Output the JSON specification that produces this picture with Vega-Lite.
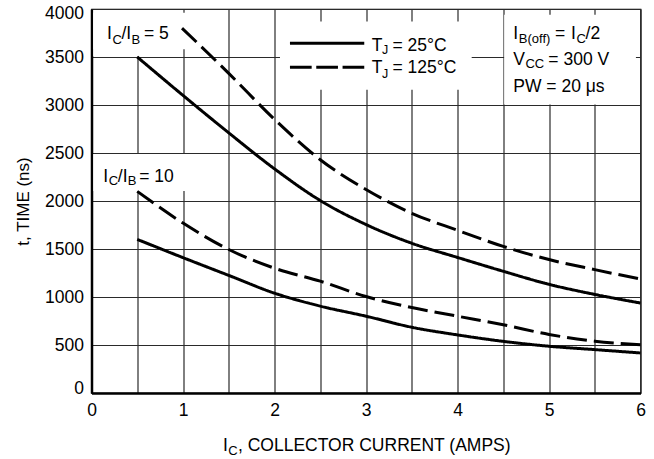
{
  "$schema": "https://vega.github.io/schema/vega-lite/v6.json",
  "width": 549,
  "height": 384,
  "autosize": {"type": "none"},
  "padding": {"left": 91.5, "top": 9, "right": 13.5, "bottom": 66},
  "background": "white",
  "config": {"view": {"stroke": "black", "strokeWidth": 1.2}, "font": "Liberation Sans"},
  "datasets": {
    "curves": [
      {"ic": 0.5, "t": 3500, "temp": "25", "ratio": "5"},
      {"ic": 1, "t": 3100, "temp": "25", "ratio": "5"},
      {"ic": 1.5, "t": 2710, "temp": "25", "ratio": "5"},
      {"ic": 2, "t": 2335, "temp": "25", "ratio": "5"},
      {"ic": 2.5, "t": 2005, "temp": "25", "ratio": "5"},
      {"ic": 3, "t": 1755, "temp": "25", "ratio": "5"},
      {"ic": 3.5, "t": 1560, "temp": "25", "ratio": "5"},
      {"ic": 4, "t": 1412, "temp": "25", "ratio": "5"},
      {"ic": 4.5, "t": 1268, "temp": "25", "ratio": "5"},
      {"ic": 5, "t": 1132, "temp": "25", "ratio": "5"},
      {"ic": 5.5, "t": 1027, "temp": "25", "ratio": "5"},
      {"ic": 6, "t": 937, "temp": "25", "ratio": "5"},
      {"ic": 0.99, "t": 3800, "temp": "125", "ratio": "5"},
      {"ic": 1.5, "t": 3330, "temp": "125", "ratio": "5"},
      {"ic": 2, "t": 2850, "temp": "125", "ratio": "5"},
      {"ic": 2.5, "t": 2430, "temp": "125", "ratio": "5"},
      {"ic": 3, "t": 2120, "temp": "125", "ratio": "5"},
      {"ic": 3.5, "t": 1872, "temp": "125", "ratio": "5"},
      {"ic": 4, "t": 1695, "temp": "125", "ratio": "5"},
      {"ic": 4.5, "t": 1527, "temp": "125", "ratio": "5"},
      {"ic": 5, "t": 1390, "temp": "125", "ratio": "5"},
      {"ic": 5.5, "t": 1285, "temp": "125", "ratio": "5"},
      {"ic": 6, "t": 1187, "temp": "125", "ratio": "5"},
      {"ic": 0.5, "t": 1600, "temp": "25", "ratio": "10"},
      {"ic": 1, "t": 1410, "temp": "25", "ratio": "10"},
      {"ic": 1.5, "t": 1225, "temp": "25", "ratio": "10"},
      {"ic": 2, "t": 1040, "temp": "25", "ratio": "10"},
      {"ic": 2.5, "t": 905, "temp": "25", "ratio": "10"},
      {"ic": 3, "t": 800, "temp": "25", "ratio": "10"},
      {"ic": 3.5, "t": 685, "temp": "25", "ratio": "10"},
      {"ic": 4, "t": 605, "temp": "25", "ratio": "10"},
      {"ic": 4.5, "t": 538, "temp": "25", "ratio": "10"},
      {"ic": 5, "t": 487, "temp": "25", "ratio": "10"},
      {"ic": 5.5, "t": 452, "temp": "25", "ratio": "10"},
      {"ic": 6, "t": 417, "temp": "25", "ratio": "10"},
      {"ic": 0.5, "t": 2100, "temp": "125", "ratio": "10"},
      {"ic": 1, "t": 1770, "temp": "125", "ratio": "10"},
      {"ic": 1.5, "t": 1495, "temp": "125", "ratio": "10"},
      {"ic": 2, "t": 1300, "temp": "125", "ratio": "10"},
      {"ic": 2.5, "t": 1165, "temp": "125", "ratio": "10"},
      {"ic": 3, "t": 1005, "temp": "125", "ratio": "10"},
      {"ic": 3.5, "t": 890, "temp": "125", "ratio": "10"},
      {"ic": 4, "t": 800, "temp": "125", "ratio": "10"},
      {"ic": 4.5, "t": 711, "temp": "125", "ratio": "10"},
      {"ic": 5, "t": 610, "temp": "125", "ratio": "10"},
      {"ic": 5.5, "t": 540, "temp": "125", "ratio": "10"},
      {"ic": 6, "t": 503, "temp": "125", "ratio": "10"}
    ]
  },
  "layer": [
    {
      "data": {"name": "curves"},
      "mark": {"type": "line", "color": "black", "strokeWidth": 3, "interpolate": "monotone", "strokeCap": "butt", "opacity": 0},
      "encoding": {
        "x": {
          "field": "ic", "type": "quantitative",
          "scale": {"domain": [0, 6], "nice": false, "zero": false},
          "axis": {
            "values": [0, 0.5, 1, 1.5, 2, 2.5, 3, 3.5, 4, 4.5, 5, 5.5, 6],
            "labelExpr": "datum.value % 1 === 0 ? format(datum.value, 'd') : ''",
            "title": null, "ticks": false, "grid": true, "gridColor": "#2a2a2a", "gridWidth": 1.2, "gridOpacity": 1,
            "domainColor": "black", "domainWidth": 2.5,
            "labelFont": "Liberation Sans", "labelFontSize": 17.5, "labelColor": "black",
            "labelPadding": 8, "labelFlush": false, "labelOverlap": false
          }
        },
        "y": {
          "field": "t", "type": "quantitative",
          "scale": {"domain": [0, 4000], "nice": false, "zero": false},
          "axis": {
            "values": [0, 500, 1000, 1500, 2000, 2500, 3000, 3500, 4000],
            "format": "d",
            "title": "t, TIME (ns)", "titleFont": "Liberation Sans", "titleFontSize": 17, "titleFontWeight": "normal", "titleColor": "black", "titlePadding": 12,
            "ticks": false, "grid": true, "gridColor": "#2a2a2a", "gridWidth": 1.2, "gridOpacity": 1,
            "domainColor": "black", "domainWidth": 2.5,
            "labelFont": "Liberation Sans", "labelFontSize": 17.5, "labelColor": "black",
            "labelPadding": 8, "labelFlush": true, "labelFlushOffset": 4.5, "labelOverlap": false
          }
        },
        "detail": {"field": "ratio"},
        "strokeDash": {"field": "temp", "type": "nominal", "scale": {"domain": ["25", "125"], "range": [[1, 0], [20, 7]]}, "legend": null}
      }
    },
    {
      "data": {"values": [{}]},
      "layer": [
        {"mark": {"type": "rect", "fill": "white"}, "encoding": {"x": {"datum": 0.02, "type": "quantitative"}, "x2": {"datum": 0.8}, "y": {"datum": 3510, "type": "quantitative"}, "y2": {"datum": 3990}}},
        {"mark": {"type": "rect", "fill": "white"}, "encoding": {"x": {"datum": 0.02, "type": "quantitative"}, "x2": {"datum": 1.06}, "y": {"datum": 3580, "type": "quantitative"}, "y2": {"datum": 3960}}},
        {"mark": {"type": "rect", "fill": "white"}, "encoding": {"x": {"datum": 0.02, "type": "quantitative"}, "x2": {"datum": 1.1}, "y": {"datum": 2105, "type": "quantitative"}, "y2": {"datum": 2490}}},
        {"mark": {"type": "rect", "fill": "white"}, "encoding": {"x": {"datum": 2.06, "type": "quantitative"}, "x2": {"datum": 4.155}, "y": {"datum": 3160, "type": "quantitative"}, "y2": {"datum": 3870}}},
        {"mark": {"type": "rect", "fill": "white"}, "encoding": {"x": {"datum": 4.51, "type": "quantitative"}, "x2": {"datum": 5.95}, "y": {"datum": 3005, "type": "quantitative"}, "y2": {"datum": 3940}}}
      ]
    },
    {
      "data": {"name": "curves"},
      "mark": {"type": "line", "color": "black", "strokeWidth": 3, "interpolate": "monotone", "strokeCap": "butt"},
      "encoding": {
        "x": {"field": "ic", "type": "quantitative"},
        "y": {"field": "t", "type": "quantitative"},
        "detail": {"field": "ratio"},
        "strokeDash": {"field": "temp", "type": "nominal", "legend": null}
      }
    },
    {
      "data": {"values": [{}]},
      "layer": [
        {"mark": {"type": "rule", "color": "black", "strokeWidth": 3}, "encoding": {"x": {"datum": 2.169, "type": "quantitative"}, "x2": {"datum": 2.981}, "y": {"datum": 3643, "type": "quantitative"}}},
        {"mark": {"type": "rule", "color": "black", "strokeWidth": 3, "strokeDash": [21.7, 4.6]}, "encoding": {"x": {"datum": 2.169, "type": "quantitative"}, "x2": {"datum": 2.981}, "y": {"datum": 3393, "type": "quantitative"}}},

        {"mark": {"type": "text", "text": "I", "fontSize": 17.5, "align": "left", "baseline": "alphabetic", "color": "black"}, "encoding": {"x": {"datum": 0.169, "type": "quantitative"}, "y": {"datum": 3684, "type": "quantitative"}}},
        {"mark": {"type": "text", "text": "C", "fontSize": 13, "align": "left", "baseline": "alphabetic", "color": "black"}, "encoding": {"x": {"datum": 0.2295, "type": "quantitative"}, "y": {"datum": 3635, "type": "quantitative"}}},
        {"mark": {"type": "text", "text": "/I", "fontSize": 17.5, "align": "left", "baseline": "alphabetic", "color": "black"}, "encoding": {"x": {"datum": 0.328, "type": "quantitative"}, "y": {"datum": 3684, "type": "quantitative"}}},
        {"mark": {"type": "text", "text": "B", "fontSize": 13, "align": "left", "baseline": "alphabetic", "color": "black"}, "encoding": {"x": {"datum": 0.437, "type": "quantitative"}, "y": {"datum": 3635, "type": "quantitative"}}},
        {"mark": {"type": "text", "text": "= 5", "fontSize": 17.5, "align": "left", "baseline": "alphabetic", "color": "black"}, "encoding": {"x": {"datum": 0.574, "type": "quantitative"}, "y": {"datum": 3684, "type": "quantitative"}}},

        {"mark": {"type": "text", "text": "I", "fontSize": 17.5, "align": "left", "baseline": "alphabetic", "color": "black"}, "encoding": {"x": {"datum": 0.129, "type": "quantitative"}, "y": {"datum": 2201, "type": "quantitative"}}},
        {"mark": {"type": "text", "text": "C", "fontSize": 13, "align": "left", "baseline": "alphabetic", "color": "black"}, "encoding": {"x": {"datum": 0.189, "type": "quantitative"}, "y": {"datum": 2167, "type": "quantitative"}}},
        {"mark": {"type": "text", "text": "/I", "fontSize": 17.5, "align": "left", "baseline": "alphabetic", "color": "black"}, "encoding": {"x": {"datum": 0.2874, "type": "quantitative"}, "y": {"datum": 2201, "type": "quantitative"}}},
        {"mark": {"type": "text", "text": "B", "fontSize": 13, "align": "left", "baseline": "alphabetic", "color": "black"}, "encoding": {"x": {"datum": 0.3967, "type": "quantitative"}, "y": {"datum": 2167, "type": "quantitative"}}},
        {"mark": {"type": "text", "text": "= 10", "fontSize": 17.5, "align": "left", "baseline": "alphabetic", "color": "black"}, "encoding": {"x": {"datum": 0.522, "type": "quantitative"}, "y": {"datum": 2201, "type": "quantitative"}}},

        {"mark": {"type": "text", "text": "T", "fontSize": 17.5, "align": "left", "baseline": "alphabetic", "color": "black"}, "encoding": {"x": {"datum": 3.062, "type": "quantitative"}, "y": {"datum": 3566, "type": "quantitative"}}},
        {"mark": {"type": "text", "text": "J", "fontSize": 12.5, "align": "left", "baseline": "alphabetic", "color": "black"}, "encoding": {"x": {"datum": 3.175, "type": "quantitative"}, "y": {"datum": 3531, "type": "quantitative"}}},
        {"mark": {"type": "text", "text": "= 25°C", "fontSize": 17.5, "align": "left", "baseline": "alphabetic", "color": "black"}, "encoding": {"x": {"datum": 3.29, "type": "quantitative"}, "y": {"datum": 3566, "type": "quantitative"}}},
        {"mark": {"type": "text", "text": "T", "fontSize": 17.5, "align": "left", "baseline": "alphabetic", "color": "black"}, "encoding": {"x": {"datum": 3.062, "type": "quantitative"}, "y": {"datum": 3333, "type": "quantitative"}}},
        {"mark": {"type": "text", "text": "J", "fontSize": 12.5, "align": "left", "baseline": "alphabetic", "color": "black"}, "encoding": {"x": {"datum": 3.175, "type": "quantitative"}, "y": {"datum": 3278, "type": "quantitative"}}},
        {"mark": {"type": "text", "text": "= 125°C", "fontSize": 17.5, "align": "left", "baseline": "alphabetic", "color": "black"}, "encoding": {"x": {"datum": 3.29, "type": "quantitative"}, "y": {"datum": 3333, "type": "quantitative"}}},

        {"mark": {"type": "text", "text": "I", "fontSize": 17.5, "align": "left", "baseline": "alphabetic", "color": "black"}, "encoding": {"x": {"datum": 4.61, "type": "quantitative"}, "y": {"datum": 3684, "type": "quantitative"}}},
        {"mark": {"type": "text", "text": "B(off)", "fontSize": 13, "align": "left", "baseline": "alphabetic", "color": "black"}, "encoding": {"x": {"datum": 4.67, "type": "quantitative"}, "y": {"datum": 3643, "type": "quantitative"}}},
        {"mark": {"type": "text", "text": "=", "fontSize": 17.5, "align": "left", "baseline": "alphabetic", "color": "black"}, "encoding": {"x": {"datum": 5.066, "type": "quantitative"}, "y": {"datum": 3684, "type": "quantitative"}}},
        {"mark": {"type": "text", "text": "I", "fontSize": 17.5, "align": "left", "baseline": "alphabetic", "color": "black"}, "encoding": {"x": {"datum": 5.24, "type": "quantitative"}, "y": {"datum": 3684, "type": "quantitative"}}},
        {"mark": {"type": "text", "text": "C", "fontSize": 13, "align": "left", "baseline": "alphabetic", "color": "black"}, "encoding": {"x": {"datum": 5.3, "type": "quantitative"}, "y": {"datum": 3643, "type": "quantitative"}}},
        {"mark": {"type": "text", "text": "/2", "fontSize": 17.5, "align": "left", "baseline": "alphabetic", "color": "black"}, "encoding": {"x": {"datum": 5.4, "type": "quantitative"}, "y": {"datum": 3684, "type": "quantitative"}}},
        {"mark": {"type": "text", "text": "V", "fontSize": 17.5, "align": "left", "baseline": "alphabetic", "color": "black"}, "encoding": {"x": {"datum": 4.61, "type": "quantitative"}, "y": {"datum": 3417, "type": "quantitative"}}},
        {"mark": {"type": "text", "text": "CC", "fontSize": 13, "align": "left", "baseline": "alphabetic", "color": "black"}, "encoding": {"x": {"datum": 4.743, "type": "quantitative"}, "y": {"datum": 3382, "type": "quantitative"}}},
        {"mark": {"type": "text", "text": "= 300 V", "fontSize": 17.5, "align": "left", "baseline": "alphabetic", "color": "black"}, "encoding": {"x": {"datum": 4.993, "type": "quantitative"}, "y": {"datum": 3417, "type": "quantitative"}}},
        {"mark": {"type": "text", "text": "PW = 20 μs", "fontSize": 17.5, "align": "left", "baseline": "alphabetic", "color": "black"}, "encoding": {"x": {"datum": 4.61, "type": "quantitative"}, "y": {"datum": 3139, "type": "quantitative"}}},

        {"mark": {"type": "text", "text": "I", "fontSize": 17.5, "align": "left", "baseline": "alphabetic", "color": "black"}, "encoding": {"x": {"datum": 1.437, "type": "quantitative"}, "y": {"datum": -601, "type": "quantitative"}}},
        {"mark": {"type": "text", "text": "C", "fontSize": 13, "align": "left", "baseline": "alphabetic", "color": "black"}, "encoding": {"x": {"datum": 1.495, "type": "quantitative"}, "y": {"datum": -646, "type": "quantitative"}}},
        {"mark": {"type": "text", "text": ", COLLECTOR CURRENT (AMPS)", "fontSize": 17.5, "align": "left", "baseline": "alphabetic", "color": "black"}, "encoding": {"x": {"datum": 1.601, "type": "quantitative"}, "y": {"datum": -601, "type": "quantitative"}}}
      ]
    }
  ]
}
